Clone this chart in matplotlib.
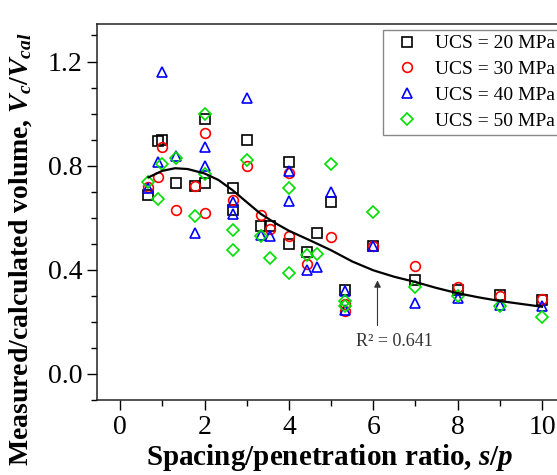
import numpy as np
import matplotlib
matplotlib.use("Agg")
import matplotlib.pyplot as plt
from matplotlib.ticker import MultipleLocator

plt.rcParams['font.family'] = ['Liberation Serif', 'DejaVu Serif']
plt.rcParams['mathtext.fontset'] = 'custom'
plt.rcParams['mathtext.rm'] = 'Liberation Serif:bold'
plt.rcParams['mathtext.it'] = 'Liberation Serif:italic:bold'
plt.rcParams['mathtext.bf'] = 'Liberation Serif:bold'

# -------------------------------------------------
# dados
# -------------------------------------------------

x_20 = [0.67, 0.89, 1.0, 1.33, 1.78, 2.0, 2.0, 2.67, 2.67, 3.0, 3.33, 3.56,
        4.0, 4.0, 4.44, 4.67, 5.0, 5.33, 6.0, 7.0, 8.0, 9.0, 10.0]
y_20 = [0.687, 0.893, 0.90, 0.733, 0.72, 0.98, 0.733, 0.714, 0.63, 0.90, 0.567, 0.567,
        0.815, 0.50, 0.467, 0.54, 0.66, 0.322, 0.49, 0.36, 0.322, 0.303, 0.283]

x_30 = [0.67, 0.89, 1.0, 1.33, 1.78, 2.0, 2.0, 2.67, 3.0, 3.33, 3.56,
        4.0, 4.0, 4.44, 5.0, 5.33, 5.33, 6.0, 7.0, 8.0, 9.0, 10.0]
y_30 = [0.717, 0.758, 0.873, 0.63, 0.723, 0.924, 0.617, 0.668, 0.80, 0.61, 0.555,
        0.773, 0.531, 0.424, 0.527, 0.268, 0.24, 0.49, 0.415, 0.335, 0.30, 0.287]

x_40 = [0.67, 0.89, 1.0, 1.33, 1.78, 2.0, 2.0, 2.67, 2.67, 3.0, 3.33, 3.56,
        4.0, 4.0, 4.44, 4.67, 5.0, 5.33, 5.33, 6.0, 7.0, 8.0, 9.0, 10.0]
y_40 = [0.715, 0.813, 1.16, 0.838, 0.543, 0.87, 0.80, 0.66, 0.614, 1.06, 0.535, 0.531,
        0.778, 0.665, 0.40, 0.41, 0.697, 0.32, 0.245, 0.49, 0.274, 0.29, 0.265, 0.26]

x_50 = [0.67, 0.89, 1.0, 1.33, 1.78, 2.0, 2.0, 2.67, 2.67, 3.0, 3.33, 3.56,
        4.0, 4.0, 4.44, 4.67, 5.0, 5.33, 5.33, 6.0, 7.0, 8.0, 9.0, 10.0]
y_50 = [0.738, 0.672, 0.806, 0.828, 0.608, 0.999, 0.768, 0.553, 0.476, 0.822, 0.53, 0.447,
        0.713, 0.387, 0.455, 0.46, 0.806, 0.28, 0.262, 0.623, 0.335, 0.30, 0.26, 0.22]

# curva ajustada (pontos lidos)
fit_x = [0.67, 1.0, 1.3, 1.6, 2.0, 2.33, 2.67, 3.0, 3.33, 3.67, 4.0, 4.5, 5.0,
         5.5, 6.0, 6.5, 7.0, 7.5, 8.0, 8.5, 9.0, 9.5, 10.0]
fit_y = [0.755, 0.78, 0.79, 0.787, 0.77, 0.745, 0.705, 0.66, 0.615, 0.58, 0.55, 0.513, 0.475,
         0.432, 0.398, 0.373, 0.353, 0.330, 0.310, 0.294, 0.280, 0.269, 0.258]

labels = ["UCS = 20 MPa", "UCS = 30 MPa", "UCS = 40 MPa", "UCS = 50 MPa"]

# -------------------------------------------------
# plot
# -------------------------------------------------

fig = plt.figure(figsize=(5.57, 4.75), dpi=100)
ax = fig.add_axes([0.174, 0.158, 0.837, 0.792])

mk = dict(linestyle='none', markerfacecolor='none', markeredgewidth=1.2)
ax.plot(x_20, y_20, marker='s', markersize=6.5, color='black', label=labels[0], **mk)
ax.plot(x_30, y_30, marker='o', markersize=7, color='#ff0000', label=labels[1], **mk)
ax.plot(x_40, y_40, marker='^', markersize=7.5, color='#0000ff', label=labels[2], **mk)
ax.plot(x_50, y_50, marker='D', markersize=6, color='#00dd00', label=labels[3], **mk)

ax.plot(fit_x, fit_y, color='black', lw=1.6)

# seta e R2
ax.annotate("", xy=(6.1, 0.37), xytext=(6.1, 0.175),
            arrowprops=dict(arrowstyle='-|>', color='#333333', lw=0.8, mutation_scale=10))
ax.text(6.5, 0.125, "R² = 0.641", ha='center', va='center', fontsize=13, color='#333333')

ax.set_xlim(-0.55, 10.5)
ax.set_ylim(-0.1, 1.345)
ax.xaxis.set_major_locator(MultipleLocator(2))
ax.xaxis.set_minor_locator(MultipleLocator(1))
ax.yaxis.set_major_locator(MultipleLocator(0.4))
ax.yaxis.set_minor_locator(MultipleLocator(0.1))
ax.tick_params(which='major', direction='out', length=7, width=1, labelsize=20)
ax.tick_params(which='minor', direction='out', length=4, width=1)
ax.yaxis.set_major_formatter(plt.FormatStrFormatter('%.1f'))

for s in ax.spines.values():
    s.set_linewidth(1.1)
    s.set_color('#222222')

ax.set_xlabel("Spacing/penetration ratio, $s/p$", fontsize=21, fontweight='bold', labelpad=2)
ax.set_ylabel("Measured/calculated volume, $V_c/V_{cal}$", fontsize=20, fontweight='bold')
ax.yaxis.set_label_coords(-0.135, 0.40)

leg = ax.legend(loc='upper left', bbox_to_anchor=(0.6876, 0.9368), bbox_transform=fig.transFigure,
                fontsize=14, frameon=True, fancybox=False, edgecolor='#888888', framealpha=1,
                borderaxespad=0, handlelength=2.0, handletextpad=0.42, labelspacing=0.42,
                borderpad=0.25)
leg.get_frame().set_linewidth(1.0)

fig.savefig("out.png", dpi=100)
